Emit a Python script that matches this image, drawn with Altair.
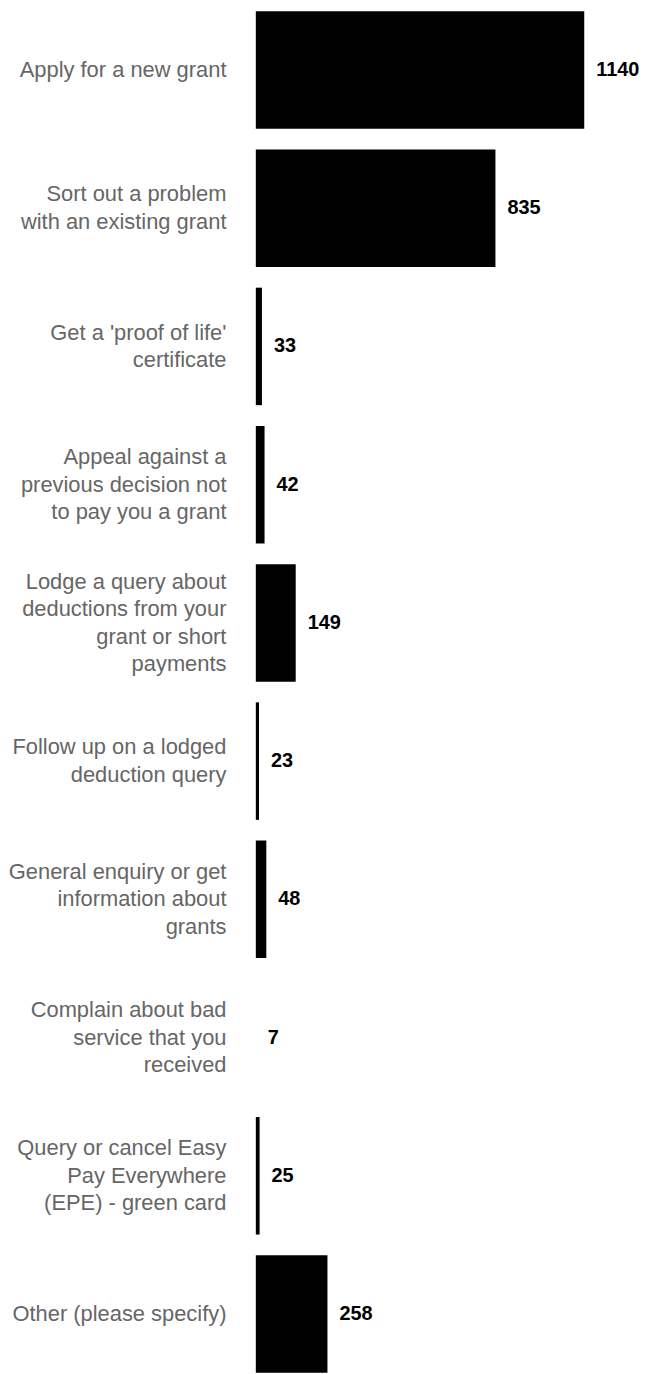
import altair as alt
import pandas as pd

categories = [
    "Apply for a new grant",
    "Sort out a problem|with an existing grant",
    "Get a 'proof of life'|certificate",
    "Appeal against a|previous decision not|to pay you a grant",
    "Lodge a query about|deductions from your|grant or short|payments",
    "Follow up on a lodged|deduction query",
    "General enquiry or get|information about|grants",
    "Complain about bad|service that you|received",
    "Query or cancel Easy|Pay Everywhere|(EPE) - green card",
    "Other (please specify)",
]
values = [1140, 835, 33, 42, 149, 23, 48, 7, 25, 258]
baseline = 12
line_height = 27.5

df = pd.DataFrame({"category": categories, "value": values, "base": [baseline] * len(values)})

x_scale = alt.Scale(domain=[baseline, 1311], clamp=True, nice=False, zero=False)

label_offset = {
    "condition": [
        {"test": f"length(split(datum.value, '|')) == {n}", "value": -(n - 1) * line_height / 2}
        for n in (2, 3, 4)
    ],
    "value": 0,
}

y_enc = alt.Y(
    "category:N",
    sort=None,
    scale=alt.Scale(paddingInner=0.15, paddingOuter=0),
    axis=alt.Axis(
        title=None,
        domain=False,
        ticks=False,
        labelPadding=30,
        labelFont="Liberation Sans",
        labelFontSize=22,
        labelColor="#666666",
        labelLineHeight=line_height,
        labelLimit=280,
        labelOffset=label_offset,
        labelExpr="split(datum.label, '|')",
    ),
)

bars = alt.Chart(df).mark_bar(color="#000000").encode(
    x=alt.X("value:Q", scale=x_scale, axis=None),
    x2="base:Q",
    y=y_enc,
)

texts = alt.Chart(df).mark_text(
    align="left", baseline="middle", dx=12, font="Liberation Sans",
    fontSize=20, fontWeight="bold", color="#000000",
).encode(
    x=alt.X("value:Q", scale=x_scale, axis=None),
    y=y_enc,
    text="value:Q",
)

chart = alt.layer(bars, texts).properties(
    width=380, height=1368, padding=0
).configure_view(stroke=None)

chart.save("out.html", embed_options={"renderer": "svg", "actions": False})
